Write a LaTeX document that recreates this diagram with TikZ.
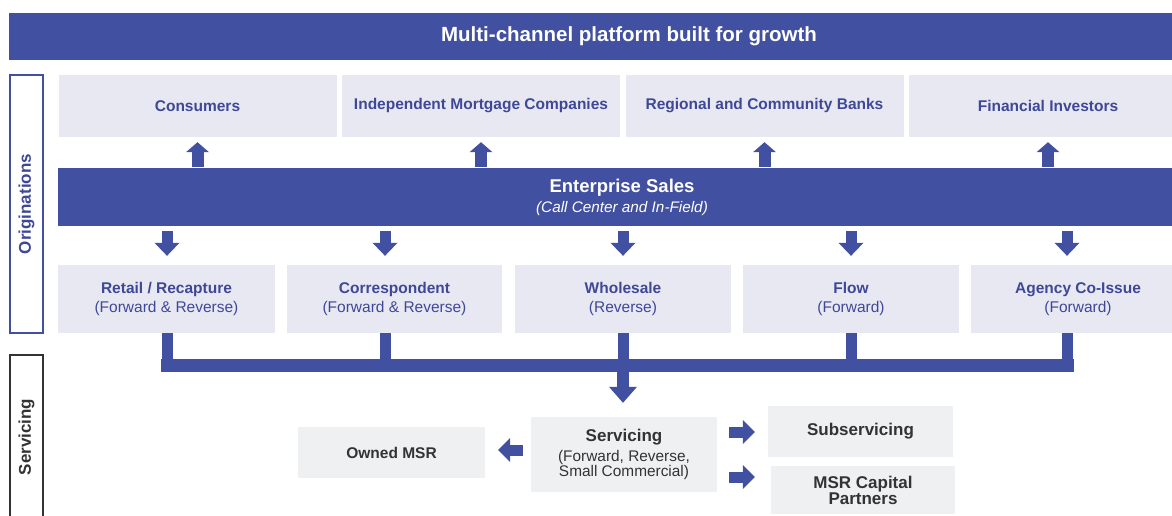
\documentclass[tikz,border=0pt]{standalone}
\usepackage{fontspec}
\setmainfont{Liberation Sans}
\usetikzlibrary{arrows.meta}

\definecolor{brand}{RGB}{65,80,160}
\definecolor{chipfill}{RGB}{232,232,243}
\definecolor{svcfill}{RGB}{239,240,242}
\definecolor{labelblue}{RGB}{62,72,150}
\definecolor{ink}{RGB}{51,51,51}

\tikzset{
  band/.style={fill=brand, text=white, inner sep=0pt, align=center},
  chip/.style={fill=chipfill, text=labelblue, inner sep=0pt, align=center},
  topchip/.style={chip, minimum width=278pt, minimum height=62pt,
    font=\fontsize{15.5}{18}\selectfont\bfseries},
  origchip/.style={chip, minimum height=68pt,
    font=\fontsize{15.5}{19}\selectfont},
  svcchip/.style={fill=svcfill, text=ink, inner sep=0pt, align=center},
  sideframe/.style={line width=2pt, inner sep=0pt, rotate=90,
    font=\fontsize{17}{20}\selectfont\bfseries},
  uparrow/.style={draw=brand, line width=12pt,
    -{Triangle[width=23pt,length=10pt,line width=0pt]}},
  downarrow/.style={draw=brand, line width=11pt,
    -{Triangle[width=25pt,length=13pt,line width=0pt]}},
  feedarrow/.style={draw=brand, line width=12pt,
    -{Triangle[width=28pt,length=16pt,line width=0pt]}},
  sidearrow/.style={draw=brand, line width=11pt,
    -{Triangle[width=24pt,length=12pt,line width=0pt]}},
  drop/.style={draw=brand, line width=11pt},
  busbar/.style={draw=brand, line width=13pt, line cap=rect},
}

\begin{document}
\begin{tikzpicture}[x=1pt,y=-1pt]
\useasboundingbox (0,0) rectangle (1172,515);
\clip (0,0) rectangle (1172,515);

% header band
\node[band, minimum width=1240pt, minimum height=47pt,
  font=\fontsize{20.5}{24}\selectfont\bfseries] (title) at (629,36.5)
  {Multi-channel platform built for growth};

% section frames
\node[sideframe, draw=brand, text=labelblue, minimum width=258pt,
  minimum height=33pt] (origframe) at (26.5,204) {Originations};
\node[sideframe, draw=ink, text=ink, minimum width=164pt,
  minimum height=33pt] (svcframe) at (26.5,437) {Servicing};

% channel partners
\node[topchip] (cons)  at (197.5,106) {Consumers};
\node[topchip] (imc)   at (481,106)   {Independent Mortgage Companies};
\node[topchip] (banks) at (764.5,106) {Regional and Community Banks};
\node[topchip] (inv)   at (1048,106)  {Financial Investors};

% enterprise sales band
\node[band, minimum width=1128pt, minimum height=58pt] (ent) at (622,197)
  {{\fontsize{18.5}{21}\selectfont\bfseries Enterprise Sales}\\[4pt]
   {\fontsize{15.3}{17}\selectfont\itshape (Call Center and In-Field)}};

% origination channels
\node[origchip, minimum width=217pt] (retail) at (166.5,299)
  {\textbf{Retail / Recapture}\\(Forward \& Reverse)};
\node[origchip, minimum width=215pt] (corr) at (394.5,299)
  {\textbf{Correspondent}\\(Forward \& Reverse)};
\node[origchip, minimum width=216pt] (whole) at (623,299)
  {\textbf{Wholesale}\\(Reverse)};
\node[origchip, minimum width=216pt] (flow) at (851,299)
  {\textbf{Flow}\\(Forward)};
\node[origchip, minimum width=214pt] (agency) at (1078,299)
  {\textbf{Agency Co-Issue}\\(Forward)};

% servicing
\node[svcchip, minimum width=186pt, minimum height=75pt,
  font=\fontsize{15.4}{15.5}\selectfont] (serv) at (624,454.5)
  {{\fontsize{17}{17}\selectfont\bfseries Servicing}\\[4pt]
   (Forward, Reverse,\\Small Commercial)};
\node[svcchip, minimum width=187pt, minimum height=51pt,
  font=\fontsize{15.5}{18}\selectfont\bfseries] (owned) at (391.5,452.5)
  {Owned MSR};
\node[svcchip, minimum width=185pt, minimum height=51pt,
  font=\fontsize{17}{18}\selectfont\bfseries] (sub) at (860.5,431.5)
  {Subservicing};
\node[svcchip, minimum width=184pt, minimum height=48pt,
  font=\fontsize{17}{16}\selectfont\bfseries] (msr) at (863,490)
  {MSR Capital\\Partners};

% enterprise sales feeds the partners
\draw[uparrow, shorten <=1pt, shorten >=5pt] (ent.north -| cons)  -- (cons.south);
\draw[uparrow, shorten <=1pt, shorten >=5pt] (ent.north -| imc)   -- (imc.south);
\draw[uparrow, shorten <=1pt, shorten >=5pt] (ent.north -| banks) -- (banks.south);
\draw[uparrow, shorten <=1pt, shorten >=5pt] (ent.north -| inv)   -- (inv.south);

% bus joining the channels
\coordinate (b1) at (167,365);
\coordinate (b2) at (385,365);
\coordinate (b3) at (623,365);
\coordinate (b4) at (851,365);
\coordinate (b5) at (1067,365);

\draw[downarrow, shorten <=5pt, shorten >=9pt] (b1 |- ent.south) -- (b1 |- retail.north);
\draw[downarrow, shorten <=5pt, shorten >=9pt] (b2 |- ent.south) -- (b2 |- corr.north);
\draw[downarrow, shorten <=5pt, shorten >=9pt] (b3 |- ent.south) -- (b3 |- whole.north);
\draw[downarrow, shorten <=5pt, shorten >=9pt] (b4 |- ent.south) -- (b4 |- flow.north);
\draw[downarrow, shorten <=5pt, shorten >=9pt] (b5 |- ent.south) -- (b5 |- agency.north);

\draw[drop] (b1 |- retail.south) -- (b1);
\draw[drop] (b2 |- corr.south)   -- (b2);
\draw[drop] (b3 |- whole.south)  -- (b3);
\draw[drop] (b4 |- flow.south)   -- (b4);
\draw[drop] (b5 |- agency.south) -- (b5);
\draw[busbar] (b1) -- (b5);

\draw[feedarrow, shorten >=14pt] (b3) -- (b3 |- serv.north);

% servicing outputs
\draw[sidearrow, shorten <=8pt, shorten >=13pt] (serv.west |- 0,450) -- (owned.east |- 0,450);
\draw[sidearrow, shorten <=12pt, shorten >=13pt] (serv.east |- 0,432) -- (sub.west |- 0,432);
\draw[sidearrow, shorten <=12pt, shorten >=16pt] (serv.east |- 0,477) -- (msr.west |- 0,477);
\end{tikzpicture}
\end{document}
